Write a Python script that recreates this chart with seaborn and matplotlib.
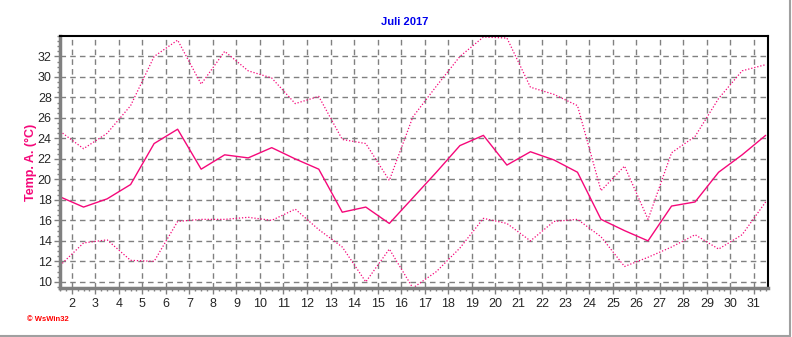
import matplotlib
matplotlib.use("Agg")
import matplotlib.pyplot as plt
import matplotlib.lines as mlines
import numpy as np
import pandas as pd
import seaborn as sns
from matplotlib.ticker import MultipleLocator

# daily values for July 2017, plotted at mid-day
days = list(range(1, 32))
temp_max = [24.7, 23.0, 24.5, 27.2, 32.0, 33.6, 29.3, 32.5, 30.6, 29.9,
            27.4, 28.1, 23.9, 23.5, 19.9, 26.1, 29.1, 32.0, 33.9, 33.8,
            29.0, 28.3, 27.2, 18.9, 21.3, 16.1, 22.6, 24.2, 27.9, 30.6, 31.2]
temp_mean = [18.3, 17.3, 18.1, 19.5, 23.5, 24.9, 21.0, 22.4, 22.1, 23.1,
             22.0, 21.0, 16.8, 17.3, 15.7, 18.2, 20.7, 23.3, 24.3, 21.4,
             22.7, 21.9, 20.7, 16.1, 15.0, 14.0, 17.4, 17.8, 20.7, 22.4, 24.3]
temp_min = [11.6, 13.8, 14.1, 12.1, 12.0, 15.9, 16.1, 16.1, 16.3, 16.0,
            17.1, 15.1, 13.4, 10.0, 13.2, 9.4, 11.0, 13.3, 16.2, 15.7,
            14.0, 15.9, 16.1, 14.4, 11.5, 12.4, 13.4, 14.6, 13.2, 14.6, 17.8]
x_labels = list(range(2, 32))

df = pd.DataFrame({"x": np.array(days) + 0.5,
                   "max": temp_max, "mean": temp_mean, "min": temp_min})

sns.set_style("white")
plt.rcParams["font.family"] = ["Liberation Sans", "DejaVu Sans"]

line_col = "#f5087a"
fig = plt.figure(figsize=(7.92, 3.37), dpi=100)
ax = fig.add_axes([0.0758, 0.1454, 0.8939, 0.7478])
ax.set_axisbelow(True)

sns.lineplot(data=df, x="x", y="max", ax=ax, color=line_col, lw=0.9, linestyle=(0, (1, 1.5)))
sns.lineplot(data=df, x="x", y="mean", ax=ax, color=line_col, lw=1.0)
sns.lineplot(data=df, x="x", y="min", ax=ax, color=line_col, lw=0.9, linestyle=(0, (1, 1.5)))

ax.set_xlim(1.5, 31.6)
ax.set_ylim(9.4, 34.0)
ax.set_xticks(x_labels)
ax.set_xticklabels([str(v) for v in x_labels], fontsize=9)
ax.xaxis.set_minor_locator(MultipleLocator(0.25))
ax.set_yticks(range(10, 34, 2))
ax.yaxis.set_minor_locator(MultipleLocator(0.5))
ax.tick_params(axis="y", labelsize=9, length=4, width=1, color="#808080", direction="out", pad=2)
ax.tick_params(axis="x", length=4, width=1, color="#808080", direction="out", pad=3)
ax.tick_params(which="minor", length=2, width=1, color="#808080", direction="out")
ax.tick_params(axis="x", which="both", bottom=True)
ax.tick_params(axis="y", which="both", left=True)

ax.grid(True, which="major", color="#808080", linestyle=(0, (4, 3)), linewidth=1)
ax.set_xlabel("")
ax.set_ylabel("Temp. A. (°C)", color=line_col, fontsize=9, fontweight="bold")
ax.yaxis.set_label_coords(-0.032, 0.5)

for side in ["left", "bottom"]:
    ax.spines[side].set_color("#808080")
    ax.spines[side].set_linewidth(2.5)
for side in ["top", "right"]:
    ax.spines[side].set_color("black")
    ax.spines[side].set_linewidth(1.5)

fig.text(0.511, 0.935, "Juli 2017", color="#0000ee", fontsize=8, fontweight="bold",
         ha="center", va="center")
fig.text(0.034, 0.053, "© WsWin32", color="red", fontsize=5.5, fontweight="bold",
         ha="left", va="center")

# outer frame (right and bottom edge)
fig.add_artist(mlines.Line2D([0, 0.998], [0.003, 0.003], transform=fig.transFigure,
                             color="#a0a0a0", lw=1.5))
fig.add_artist(mlines.Line2D([0.998, 0.998], [0.003, 1.0], transform=fig.transFigure,
                             color="#a0a0a0", lw=1.5))

fig.savefig("out.png", dpi=100)
